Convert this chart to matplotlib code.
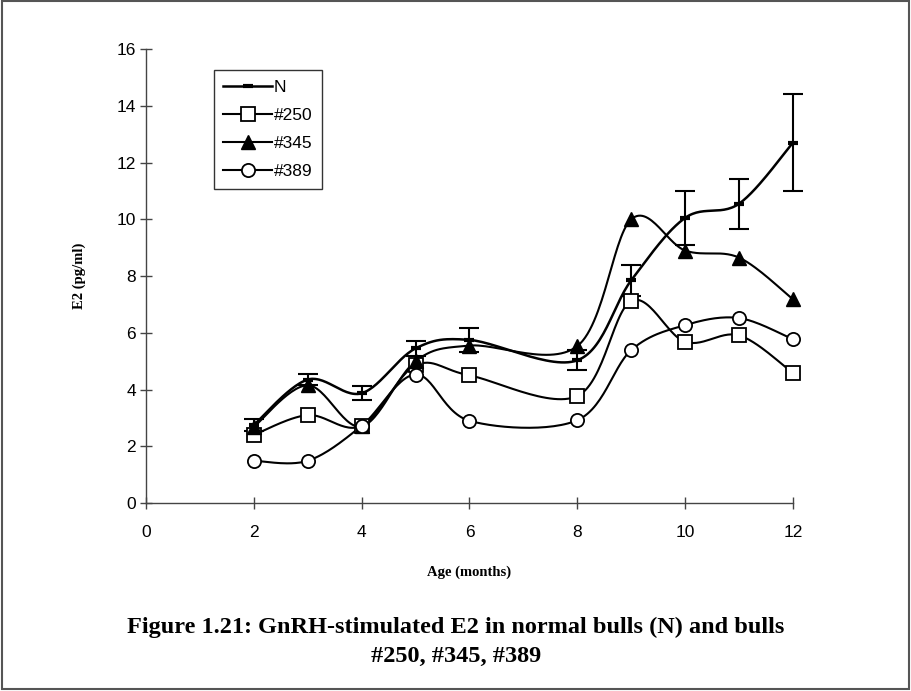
import numpy as np
import matplotlib
matplotlib.use("Agg")
import matplotlib.pyplot as plt
from matplotlib.patches import Rectangle

# ages sampled (no 7-month point)
age = [2, 3, 4, 5, 6, 8, 9, 10, 11, 12]

n_mean = [2.75, 4.35, 3.87, 5.45, 5.75, 5.03, 7.85, 10.05, 10.55, 12.7]
n_err = [0.2, 0.2, 0.25, 0.25, 0.42, 0.35, 0.55, 0.95, 0.88, 1.7]
b250 = [2.4, 3.1, 2.72, 4.85, 4.5, 3.77, 7.12, 5.68, 5.91, 4.58]
b345 = [2.68, 4.15, 2.7, 5.0, 5.55, 5.53, 10.0, 8.9, 8.65, 7.18]
b389 = [1.49, 1.49, 2.72, 4.53, 2.9, 2.92, 5.39, 6.27, 6.52, 5.77]


def smooth(x, y, steps=30):
    # catmull-rom style bezier smoothing, same as spreadsheet "smoothed line"
    x = np.asarray(x, float)
    y = np.asarray(y, float)
    px = np.concatenate([[x[0]], x, [x[-1]]])
    py = np.concatenate([[y[0]], y, [y[-1]]])
    xs, ys = [], []
    t = np.linspace(0, 1, steps)
    for i in range(1, len(x)):
        p0 = np.array([px[i], py[i]])
        p3 = np.array([px[i + 1], py[i + 1]])
        c1 = p0 + (np.array([px[i + 1], py[i + 1]]) - np.array([px[i - 1], py[i - 1]])) / 6
        c2 = p3 - (np.array([px[i + 2], py[i + 2]]) - np.array([px[i], py[i]])) / 6
        b = ((1 - t) ** 3)[:, None] * p0 + (3 * (1 - t) ** 2 * t)[:, None] * c1 \
            + (3 * (1 - t) * t ** 2)[:, None] * c2 + (t ** 3)[:, None] * p3
        xs.extend(b[:, 0])
        ys.extend(b[:, 1])
    return xs, ys


fig = plt.figure(figsize=(9.12, 6.91), dpi=100)
ax = fig.add_axes([0.160, 0.272, 0.7095, 0.657])

series = [
    ("N", n_mean, dict(marker="_", markersize=7, mew=3, mfc="black"), 1.8),
    ("#250", b250, dict(marker="s", markersize=9.5, mfc="white", mew=1.3), 1.5),
    ("#345", b345, dict(marker="^", markersize=10.5, mfc="black"), 1.5),
    ("#389", b389, dict(marker="o", markersize=9.5, mfc="white", mew=1.3), 1.5),
]

handles = []
for name, vals, mk, lw in series:
    sx, sy = smooth(age, vals)
    ax.plot(sx, sy, color="black", lw=lw, zorder=2, clip_on=False)
    ax.plot(age, vals, ls="none", color="black", mec="black", zorder=3,
            clip_on=False, **mk)
    h, = ax.plot([], [], color="black", lw=lw, mec="black", **mk)
    handles.append(h)

eb = ax.errorbar(age, n_mean, yerr=n_err, fmt="none", ecolor="black",
                 elinewidth=1.5, capsize=7, capthick=1.5, zorder=2)
for art in eb.lines[1] + eb.lines[2]:
    art.set_clip_on(False)

ax.set_xlim(0, 12)
ax.set_ylim(0, 16)
ax.set_xticks(range(0, 13, 2))
ax.set_yticks(range(0, 17, 2))
for s in ["top", "right"]:
    ax.spines[s].set_visible(False)
for s in ["left", "bottom"]:
    ax.spines[s].set_color("#444444")
    ax.spines[s].set_linewidth(1.0)
ax.tick_params(direction="inout", length=8, width=1.0, color="#444444",
               labelsize=12.5)
ax.tick_params(axis="x", pad=12)
ax.tick_params(axis="y", pad=3)
for lab in ax.get_xticklabels() + ax.get_yticklabels():
    lab.set_family("Liberation Sans")

ax.set_xlabel("Age (months)", family="Liberation Serif", fontweight="bold",
              fontsize=10.5, labelpad=18)
ax.set_ylabel("E2 (pg/ml)", family="Liberation Serif", fontweight="bold",
              fontsize=10.5, labelpad=22)

leg = ax.legend(handles, [s[0] for s in series], loc="upper left",
                bbox_to_anchor=(0.105, 0.954), borderaxespad=0, frameon=True,
                fancybox=False, edgecolor="black", handlelength=2.8,
                handletextpad=0.1, borderpad=0.55, labelspacing=0.75,
                prop={"family": "Liberation Sans", "size": 12.5})
leg.get_frame().set_linewidth(1.0)

fig.text(0.5, 1 - 627 / 691, "Figure 1.21: GnRH-stimulated E2 in normal bulls (N) and bulls",
         ha="center", va="center", family="Liberation Serif", fontweight="bold",
         fontsize=17.5)
fig.text(0.5, 1 - 656 / 691, "#250, #345, #389", ha="center", va="center",
         family="Liberation Serif", fontweight="bold", fontsize=17.5)

fig.patches.append(Rectangle((0.002, 0.003), 0.995, 0.995, transform=fig.transFigure,
                             fill=False, edgecolor="#555555", lw=1.5))

fig.savefig("out.png", dpi=100)
